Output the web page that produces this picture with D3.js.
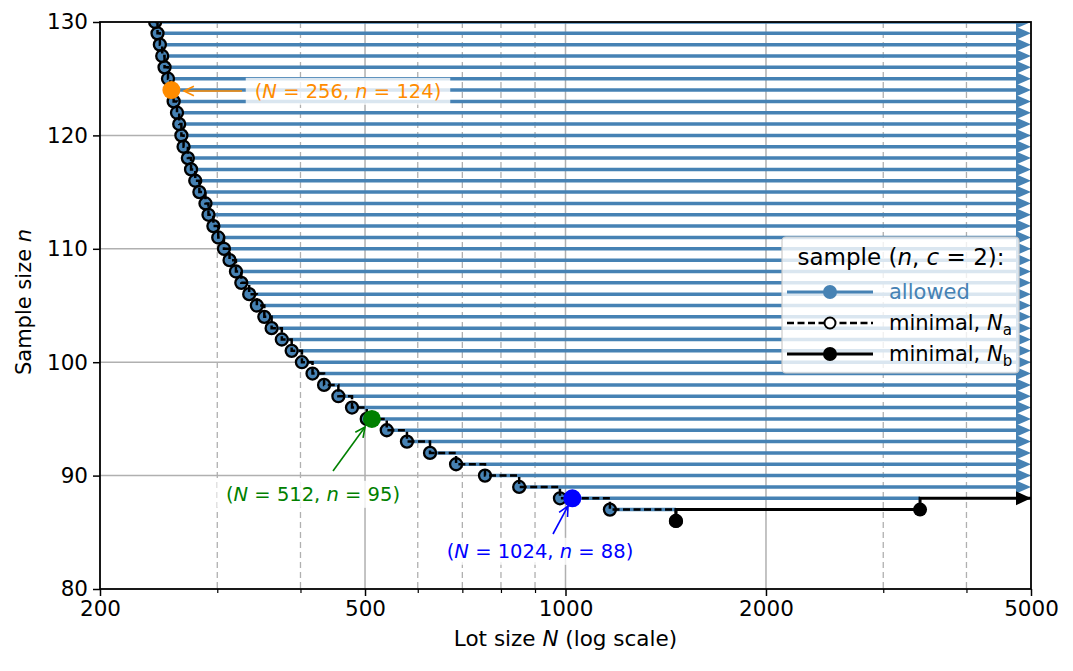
<!DOCTYPE html>
<html>
<head>
<meta charset="utf-8">
<script src="https://cdn.jsdelivr.net/npm/d3@7"></script>
<style>
  body { margin: 0; background: #fff; }
  svg { display: block; font-family: "DejaVu Sans", sans-serif; }
</style>
</head>
<body>
<svg id="chart" width="1073" height="671"></svg>
<script>
// ---- data ----
const sampleSizes = [130,129,128,127,126,125,124,123,122,121,120,119,118,117,116,115,114,113,112,111,110,109,108,107,106,105,104,103,102,101,100,99,98,97,96,95,94,93,92,91,90,89,88,87,86];
const lotSizesNa = [242,244,246,248,250,253,255,258,261,263,265,267,271,274,278,282,288,291,296,301,307,313,320,326,335,344,353,362,375,388,402,417,434,456,478,503,539,578,626,685,757,852,981,1166,1465];
const nbSampleSizes = [86, 87];
const lotSizesNb = [1465, 3407];
const highlightN = [256, 512, 1024];
const highlightn = [124, 95, 88];
const highlightColors = ["#ff8c00", "#008000", "#0000ff"];
const xTickValues = [200, 500, 1000, 2000, 5000];
const xMinorTicks = [300, 400, 600, 700, 800, 900, 3000, 4000];
const yTickValues = [80, 90, 100, 110, 120, 130];
const xDomain = [200, 5000];
const yDomain = [80, 130];

(function () {
// ---- layout ----
const mL = 100, mR = 1031, mT = 22, mB = 589;
const svg = d3.select("#chart");
const x = d3.scaleLog().domain(xDomain).range([mL, mR]);
const y = d3.scaleLinear().domain(yDomain).range([mB, mT]);
const blue = "steelblue";
const AL = 15, AH = 6.5;

svg.append("defs").append("clipPath").attr("id", "clip")
  .append("rect").attr("x", mL).attr("y", mT).attr("width", mR - mL).attr("height", mB - mT);

// grid
const grid = svg.append("g");
grid.selectAll(".vmaj").data(xTickValues.slice(1, -1)).join("line")
  .attr("x1", d => x(d)).attr("x2", d => x(d)).attr("y1", mT).attr("y2", mB)
  .attr("stroke", "#b0b0b0").attr("stroke-width", 1.5);
grid.selectAll(".vmin").data(xMinorTicks).join("line")
  .attr("x1", d => x(d)).attr("x2", d => x(d)).attr("y1", mT).attr("y2", mB)
  .attr("stroke", "#b0b0b0").attr("stroke-width", 1.3).attr("stroke-dasharray", "6,4");
grid.selectAll(".h").data(yTickValues.slice(1, -1)).join("line")
  .attr("x1", mL).attr("x2", mR).attr("y1", d => y(d)).attr("y2", d => y(d))
  .attr("stroke", "#b0b0b0").attr("stroke-width", 1.5);

const plot = svg.append("g").attr("clip-path", "url(#clip)");

// allowed lines
const nbMap = new Map(nbSampleSizes.map((n, i) => [n + 1, lotSizesNb[i]]));
const allowed = sampleSizes.map((n, i) => {
  let end = xDomain[1];
  if (nbMap.has(n)) end = nbMap.get(n);
  if (n < nbSampleSizes[0] + 1) end = null;
  return { n, start: lotSizesNa[i], end };
}).filter(d => d.end !== null);

plot.selectAll(".allowed").data(allowed).join("line")
  .attr("x1", d => x(d.start)).attr("x2", d => d.end === xDomain[1] ? x(d.end) - 10 : x(d.end))
  .attr("y1", d => y(d.n)).attr("y2", d => y(d.n))
  .attr("stroke", blue).attr("stroke-width", 3.5);
plot.selectAll(".arrowB").data(allowed.filter(d => d.end === xDomain[1])).join("path")
  .attr("d", d => `M${x(d.end)},${y(d.n)} L${x(d.end) - AL},${y(d.n) - AH} L${x(d.end) - AL},${y(d.n) + AH} Z`)
  .attr("fill", blue);
plot.selectAll(".allowedDot").data(allowed).join("circle")
  .attr("cx", d => x(d.start)).attr("cy", d => y(d.n)).attr("r", 5.8).attr("fill", blue);

// N_b solid step line
const nbPts = [];
nbSampleSizes.forEach((n, i) => {
  nbPts.push([lotSizesNb[i], n]);
  nbPts.push([lotSizesNb[i], n + 1]);
  const nextN = i + 1 < lotSizesNb.length ? lotSizesNb[i + 1] : xDomain[1];
  nbPts.push([nextN, n + 1]);
});
const lastNb = nbPts[nbPts.length - 1];
const line = d3.line().x(d => x(d[0])).y(d => y(d[1]));
plot.append("path").attr("d", line(nbPts))
  .attr("fill", "none").attr("stroke", "#000").attr("stroke-width", 3);
plot.append("path")
  .attr("d", `M${x(lastNb[0])},${y(lastNb[1])} L${x(lastNb[0]) - AL},${y(lastNb[1]) - AH - 0.5} L${x(lastNb[0]) - AL},${y(lastNb[1]) + AH + 0.5} Z`)
  .attr("fill", "#000");
plot.selectAll(".nbDot").data(nbSampleSizes).join("circle")
  .attr("cx", (d, i) => x(lotSizesNb[i])).attr("cy", d => y(d)).attr("r", 7).attr("fill", "#000");

// N_a dashed step line
const naPts = [];
sampleSizes.forEach((n, i) => {
  naPts.push([lotSizesNa[i], n]);
  if (i + 1 < sampleSizes.length) naPts.push([lotSizesNa[i + 1], n]);
});
plot.append("path").attr("d", line(naPts))
  .attr("fill", "none").attr("stroke", "#000").attr("stroke-width", 2.5)
  .attr("stroke-dasharray", "7,3.5");
plot.selectAll(".naDot").data(sampleSizes).join("circle")
  .attr("cx", (d, i) => x(lotSizesNa[i])).attr("cy", d => y(d)).attr("r", 6)
  .attr("fill", "none").attr("stroke", "#000").attr("stroke-width", 2.3);

// highlight annotations
const annotations = [
  { tx: 348, ty: 91, ax1: 242, ay1: 91, ax2: 184, ay2: 91 },
  { tx: 313, ty: 494, ax1: 333, ay1: 471, ax2: 365, ay2: 427 },
  { tx: 540, ty: 551, ax1: 553, ay1: 534, ax2: 568, ay2: 506 }
];
const ann = svg.append("g");
highlightN.forEach((N, i) => {
  const a = annotations[i], col = highlightColors[i];
  const t = ann.append("text").attr("x", a.tx).attr("y", a.ty).attr("dy", "0.35em")
    .attr("text-anchor", "middle").attr("font-size", 19.5).attr("fill", col);
  t.append("tspan").text("(");
  t.append("tspan").attr("font-style", "italic").text("N");
  t.append("tspan").text(" = " + N + ", ");
  t.append("tspan").attr("font-style", "italic").text("n");
  t.append("tspan").text(" = " + highlightn[i] + ")");
  const bb = t.node().getBBox();
  ann.insert("rect", () => t.node())
    .attr("x", bb.x - 9).attr("y", bb.y - 2).attr("width", bb.width + 18).attr("height", bb.height + 4)
    .attr("fill", "#fff").attr("opacity", 0.8);
  ann.append("line").attr("x1", a.ax1).attr("y1", a.ay1).attr("x2", a.ax2).attr("y2", a.ay2)
    .attr("stroke", col).attr("stroke-width", 1.6);
  const ang = Math.atan2(a.ay2 - a.ay1, a.ax2 - a.ax1);
  const L = 11, W = 0.45;
  const p1 = [a.ax2 - L * Math.cos(ang - W), a.ay2 - L * Math.sin(ang - W)];
  const p2 = [a.ax2 - L * Math.cos(ang + W), a.ay2 - L * Math.sin(ang + W)];
  ann.append("path").attr("d", `M${p1[0]},${p1[1]} L${a.ax2},${a.ay2} L${p2[0]},${p2[1]}`)
    .attr("fill", "none").attr("stroke", col).attr("stroke-width", 1.6);
  ann.append("circle").attr("cx", x(N)).attr("cy", y(highlightn[i])).attr("r", 9).attr("fill", col);
});

// legend
const lg = svg.append("g");
lg.append("rect").attr("x", 782).attr("y", 237).attr("width", 237).attr("height", 136).attr("rx", 4)
  .attr("fill", "#fff").attr("fill-opacity", 0.8).attr("stroke", "#cccccc").attr("stroke-width", 1.2);
const lt = lg.append("text").attr("x", 901).attr("y", 265).attr("text-anchor", "middle").attr("font-size", 23).attr("fill", "#000");
lt.append("tspan").text("sample (");
lt.append("tspan").attr("font-style", "italic").text("n");
lt.append("tspan").text(", ");
lt.append("tspan").attr("font-style", "italic").text("c");
lt.append("tspan").text(" = 2):");
const rows = [
  { yy: 292, label: "allowed", sub: null, color: blue, dash: null, fill: blue, stroke: blue, lw: 3 },
  { yy: 323, label: "minimal, ", sub: "a", color: "#000", dash: "7,3.5", fill: "none", stroke: "#000", lw: 2.5 },
  { yy: 354, label: "minimal, ", sub: "b", color: "#000", dash: null, fill: "#000", stroke: "#000", lw: 3 }
];
rows.forEach(r => {
  lg.append("line").attr("x1", 787).attr("x2", 873).attr("y1", r.yy).attr("y2", r.yy)
    .attr("stroke", r.color).attr("stroke-width", r.lw).attr("stroke-dasharray", r.dash);
  lg.append("circle").attr("cx", 830).attr("cy", r.yy).attr("r", r.fill === "none" ? 5.5 : 7)
    .attr("fill", r.fill === "none" ? "#fff" : r.fill).attr("stroke", r.stroke).attr("stroke-width", r.fill === "none" ? 2 : 0);
  const tt = lg.append("text").attr("x", 889).attr("y", r.yy).attr("dy", "0.35em").attr("font-size", 21).attr("fill", r.color);
  tt.append("tspan").text(r.label);
  if (r.sub) {
    tt.append("tspan").attr("font-style", "italic").text("N");
    tt.append("tspan").attr("font-size", 15).attr("dy", "0.3em").text(r.sub);
  }
});

// axes
const xAxis = svg.append("g").attr("transform", `translate(0,${mB})`)
  .call(d3.axisBottom(x).tickValues(xTickValues).tickFormat(d3.format("d")).tickSize(7).tickPadding(5));
svg.append("g").attr("transform", `translate(0,${mB})`)
  .call(d3.axisBottom(x).tickValues(xMinorTicks).tickFormat("").tickSize(4))
  .call(g => g.select(".domain").remove())
  .selectAll("line").attr("stroke-width", 1.2);
const yAxis = svg.append("g").attr("transform", `translate(${mL},0)`)
  .call(d3.axisLeft(y).tickValues(yTickValues).tickSize(7).tickPadding(5));
[xAxis, yAxis].forEach(g => {
  g.select(".domain").remove();
  g.selectAll("line").attr("stroke-width", 1.5);
  g.selectAll("text").attr("font-size", 21.5).attr("font-family", "DejaVu Sans").attr("fill", "#000");
});
svg.append("rect").attr("x", mL).attr("y", mT).attr("width", mR - mL).attr("height", mB - mT)
  .attr("fill", "none").attr("stroke", "#000").attr("stroke-width", 1.8);

const xl = svg.append("text").attr("x", (mL + mR) / 2).attr("y", 646).attr("text-anchor", "middle").attr("font-size", 21.5);
xl.append("tspan").text("Lot size ");
xl.append("tspan").attr("font-style", "italic").text("N");
xl.append("tspan").text(" (log scale)");
const yl = svg.append("text").attr("transform", "translate(31,302) rotate(-90)").attr("text-anchor", "middle").attr("font-size", 21);
yl.append("tspan").text("Sample size ");
yl.append("tspan").attr("font-style", "italic").text("n");
})();
</script>
</body>
</html>
